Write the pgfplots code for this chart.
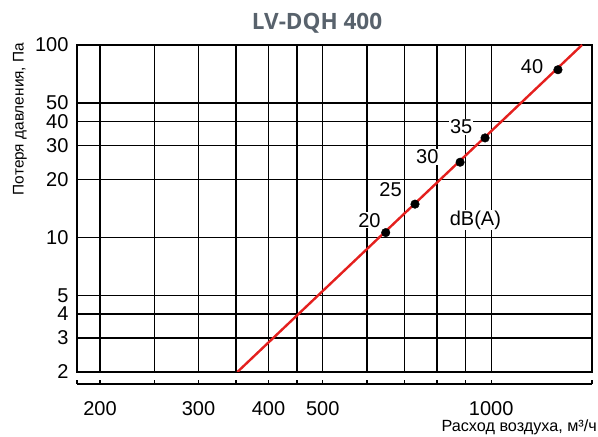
\documentclass[border=0pt]{standalone}
\usepackage{pgfplots}
\pgfplotsset{compat=1.18}
\usepackage{fontspec}
\setmainfont{Liberation Sans}
\newfontfamily\titlefont{Open Sans}
\definecolor{curvered}{RGB}{228,32,30}
\definecolor{titlegray}{RGB}{88,98,108}

\begin{document}
\begin{tikzpicture}
\useasboundingbox (0pt,0pt) rectangle (598pt,437pt);

% grid and frame
\begin{axis}[
    at={(77pt,65pt)}, anchor=south west,
    scale only axis, width=515pt, height=327pt,
    xmode=log, ymode=log,
    xmin=182, xmax=1514, ymin=2, ymax=100,
    xtick={200,250,300,350,400,450,500,600,700,800,900,1000},
    xticklabels={},
    ytick={2,3,4,5,10,20,30,40,50,100},
    yticklabels={2,3,4,5,10,20,30,40,50,100},
    minor tick num=0,
    major tick length=0pt,
    grid=major,
    grid style={black, line width=1.3pt},
    axis line style={black, line width=1.3pt},
    yticklabel style={font=\fontsize{20}{20}\selectfont, xshift=-5pt},
]
\node[fill=white, inner sep=1pt, font=\fontsize{20}{20}\selectfont] at (axis cs:1183,76.9) {40};
\node[fill=white, inner sep=1pt, font=\fontsize{20}{20}\selectfont] at (axis cs:884,37.5) {35};
\node[fill=white, inner sep=1pt, font=\fontsize{20}{20}\selectfont] at (axis cs:769,26.2) {30};
\node[fill=white, inner sep=1pt, font=\fontsize{20}{20}\selectfont] at (axis cs:661,17.7) {25};
\node[fill=white, inner sep=1pt, font=\fontsize{20}{20}\selectfont] at (axis cs:606,12.3) {20};
\node[fill=white, inner sep=1pt, font=\fontsize{20}{20}\selectfont] at (axis cs:937,12.3) {dB(A)};

\addplot[curvered, line width=2.4pt] coordinates {(352,2) (1453,100)};
\addplot[only marks, mark=*, mark size=4.3pt, black] coordinates {
    (648,10.6) (731,14.9) (880,24.6) (975,32.9) (1316,74.4)
};
\end{axis}

% separate x axis line below the grid
\begin{axis}[
    at={(77pt,53pt)}, anchor=south west,
    scale only axis, width=515pt, height=10pt,
    xmode=log, xmin=182, xmax=1514, ymin=0, ymax=1,
    axis x line*=bottom, axis y line=none,
    x axis line style={-, black, line width=1.3pt},
    xtick={182,200,250,300,350,400,450,500,600,700,800,900,1000,1514},
    xticklabels={,200,,300,,400,,500,,,,,1000,},
    minor tick num=0,
    tick align=inside,
    major tick length=4pt,
    tick style={black, line width=1.2pt},
    xticklabel style={font=\fontsize{20}{20}\selectfont, yshift=-14pt},
]
\end{axis}

\node[rotate=90, font=\fontsize{15.4}{15}\selectfont] at (20pt,318pt) {Потеря давления, Па};
\node[anchor=east, inner sep=0pt, font=\fontsize{16.2}{16}\selectfont] at (597pt,10pt) {Расход воздуха, м³/ч};
\node[text=titlegray, font=\titlefont\bfseries\fontsize{22.5}{22}\selectfont] at (317pt,414pt) {LV-DQH 400};
\end{tikzpicture}
\end{document}
